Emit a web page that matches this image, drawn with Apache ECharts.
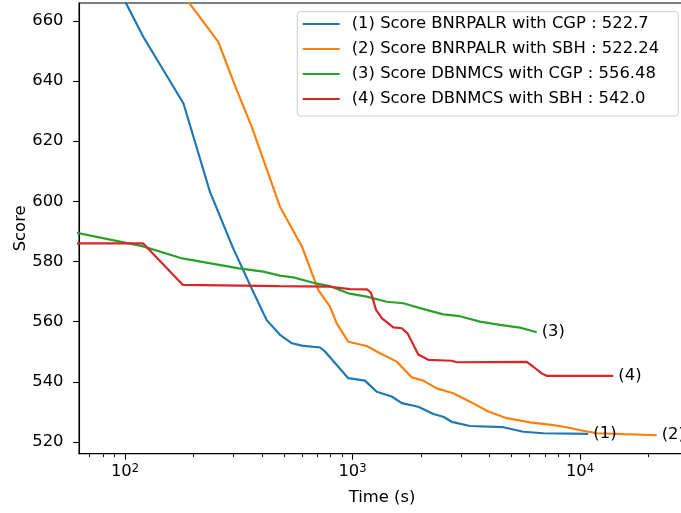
<!DOCTYPE html>
<html>
<head>
<meta charset="utf-8">
<script src="https://cdn.jsdelivr.net/npm/echarts@6/dist/echarts.min.js"></script>
<style>html,body{margin:0;padding:0;background:#fff}#c{width:681px;height:513px}</style>
</head>
<body>
<div id="c"></div>
<script>
const seriesNames = [
  '(1) Score BNRPALR with CGP : 522.7',
  '(2) Score BNRPALR with SBH : 522.24',
  '(3) Score DBNMCS with CGP : 556.48',
  '(4) Score DBNMCS with SBH : 542.0'
];
const endTags = ['(1)', '(2)', '(3)', '(4)'];
const colors = ['#1f77b4', '#ff7f0e', '#2ca02c', '#d62728'];

const blueT = [85.9, 120.3, 180.8, 236.4, 298.3, 354.4, 419.6, 480.0, 542.2, 598.0, 719.7, 757.0, 958.3, 1134, 1278, 1487, 1646, 1946, 2266, 2506, 2729, 3284, 4601, 5633, 6897, 10877];
const blueV = [676.2, 654.7, 632.5, 603.1, 584.5, 572.2, 560.5, 555.6, 552.8, 552.0, 551.4, 550.1, 541.2, 540.4, 536.7, 535.1, 532.9, 531.7, 529.3, 528.4, 526.7, 525.3, 524.9, 523.4, 522.9, 522.7];

const orangeT = [157.8, 257.1, 309.7, 360.5, 480.0, 599.8, 707.5, 796.5, 852.1, 958.3, 1154, 1321, 1564, 1820, 2048, 2345, 2774, 3284, 3953, 4762, 6029, 7631, 8740, 10174, 11841, 15499, 21731];
const orangeV = [674.4, 653.0, 637.0, 624.8, 598.2, 584.9, 570.5, 565.0, 559.4, 553.3, 551.9, 549.5, 546.7, 541.5, 540.4, 537.8, 536.2, 533.4, 530.1, 527.9, 526.5, 525.6, 524.9, 523.8, 522.9, 522.6, 522.24];

const greenT = [60, 119.1, 178.6, 317.0, 405.4, 480, 549.4, 672.4, 796.5, 958.3, 1154, 1414, 1672, 1980, 2506, 2968, 3634, 4449, 5449, 6452];
const greenV = [589.7, 585.1, 581.0, 577.7, 576.6, 575.3, 574.7, 572.9, 571.8, 569.4, 568.3, 566.6, 566.1, 564.5, 562.4, 561.8, 560.0, 558.9, 558.0, 556.48];

const redT = [60, 120.3, 179.8, 475.2, 796.5, 975, 1158, 1206, 1269, 1348, 1511, 1646, 1745, 1946, 2154, 2729, 2871, 5831, 6233, 6786, 7137, 14009];
const redV = [586.0, 586.0, 572.2, 571.8, 571.6, 570.8, 570.7, 569.6, 563.9, 561.1, 558.1, 557.8, 556.1, 549.1, 547.3, 547.0, 546.5, 546.6, 545.0, 542.8, 542.0, 542.0];

const yTicks = [520, 540, 560, 580, 600, 620, 640, 660];
const xMajorTicks = [100, 1000, 10000];
const xMinorTicks = [70, 80, 90, 200, 300, 400, 500, 600, 700, 800, 900, 2000, 3000, 4000, 5000, 6000, 7000, 8000, 9000, 20000];

const xs = [blueT, orangeT, greenT, redT];
const ys = [blueV, orangeV, greenV, redV];

const FONT = 'DejaVu Sans';
const FS = 16.4;

const chart = echarts.init(document.getElementById('c'), null, {renderer: 'canvas'});
chart.setOption({
  animation: false,
  backgroundColor: '#fff',
  textStyle: {fontFamily: FONT},
  grid: {left: 79, top: 3, right: -4, bottom: 59.3, outerBoundsMode: 'none', containLabel: false,
         show: true, borderColor: '#000', borderWidth: 1.1, backgroundColor: 'transparent'},
  xAxis: [{
    type: 'log', logBase: 10, min: 62.79, max: 28940,
    name: 'Time (s)', nameLocation: 'middle', nameGap: 36, nameMoveOverlap: false,
    nameTextStyle: {fontFamily: FONT, fontSize: FS, color: '#000'},
    axisLine: {show: true, lineStyle: {color: '#000', width: 1.1}},
    axisTick: {show: true, length: 6, inside: false, customValues: xMajorTicks, lineStyle: {color: '#000', width: 1.1}},
    splitLine: {show: false},
    minorTick: {show: false},
    axisLabel: {
      customValues: xMajorTicks,
      margin: 9, color: '#000',
      formatter: function (v) { return '{b|10}{s|' + Math.round(Math.log10(v)) + '}'; },
      rich: {
        b: {fontFamily: FONT, fontSize: FS, color: '#000', lineHeight: 19},
        s: {fontFamily: FONT, fontSize: 11.5, color: '#000', lineHeight: 11, verticalAlign: 'top'}
      }
    }
  }, {
    type: 'log', logBase: 10, min: 62.79, max: 28940, position: 'bottom', gridIndex: 0,
    axisLine: {show: false},
    axisTick: {show: true, length: 3.5, customValues: xMinorTicks, lineStyle: {color: '#000', width: 0.9}},
    axisLabel: {show: false},
    splitLine: {show: false}
  }],
  yAxis: {
    type: 'value', min: 516.1, max: 665.9,
    name: 'Score', nameLocation: 'middle', nameGap: 50.5, nameMoveOverlap: false,
    nameTextStyle: {fontFamily: FONT, fontSize: FS, color: '#000'},
    axisLine: {show: true, lineStyle: {color: '#000', width: 1.1}},
    axisTick: {show: true, length: 6, customValues: yTicks, lineStyle: {color: '#000', width: 1.1}},
    splitLine: {show: false},
    axisLabel: {customValues: yTicks, margin: 15.5, color: '#000', fontFamily: FONT, fontSize: FS}
  },
  legend: {
    orient: 'vertical', left: 302.7, top: 15, padding: 0, itemGap: 7,
    itemWidth: 37, itemHeight: 2.2, icon: 'rect', z: 101,
    data: seriesNames,
    formatter: function (n) { return '{g|}' + n; },
    textStyle: {
      fontFamily: FONT, fontSize: FS, color: '#000', lineHeight: 18,
      rich: {g: {width: 7}}
    }
  },
  graphic: [{
    type: 'rect', z: 100, silent: true,
    shape: {x: 297.3, y: 11.7, width: 381, height: 104.3, r: 3},
    style: {fill: 'rgba(255,255,255,0.8)', stroke: '#cccccc', lineWidth: 1}
  }],
  series: seriesNames.map(function (name, i) {
    return {
      name: name, type: 'line', xAxisIndex: 0, yAxisIndex: 0,
      data: xs[i].map(function (t, k) { return [t, ys[i][k]]; }),
      showSymbol: false, symbol: 'none', color: colors[i],
      lineStyle: {width: 2.2, color: colors[i]},
      clip: true,
      endLabel: {show: true, formatter: endTags[i], distance: 5, color: '#000', fontFamily: FONT, fontSize: FS}
    };
  })
});
</script>
</body>
</html>
